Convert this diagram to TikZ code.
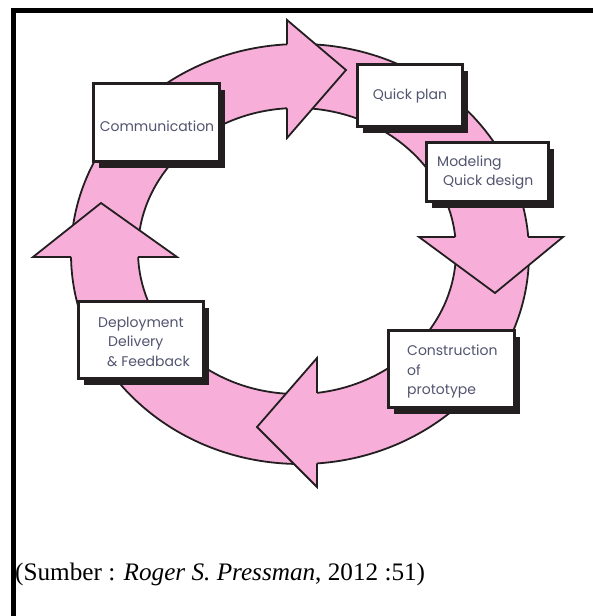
\documentclass[tikz,border=0pt]{standalone}
\usepackage{fontspec}
\setmainfont{Liberation Serif}
\newfontfamily\boxfont{Poppins}
\usetikzlibrary{shadows}
\definecolor{ringpink}{RGB}{247,174,216}
\definecolor{ink}{RGB}{35,31,32}
\definecolor{labelcol}{RGB}{82,84,112}
\begin{document}
\begin{tikzpicture}[x=1pt,y=-1pt,
  ringline/.style={draw=ink, line width=1.8pt, line join=miter},
  stagebox/.style={draw=ink, line width=2.2pt, fill=white, inner sep=0pt,
    drop shadow={shadow xshift=5pt, shadow yshift=-6pt, fill=ink, opacity=1}},
  stagetext/.style={inner sep=0pt, text=labelcol, align=left,
    font=\boxfont\fontsize{14}{19.5}\selectfont},
  framebar/.style={draw=black, line width=4.5pt}
]
\useasboundingbox (0,0) rectangle (593,616);
\fill[white] (0,0) rectangle (593,616);
% frame
\draw[framebar] (13.5,616) -- (13.5,10.5) -- (593,10.5);

% ring
\fill[ringpink, even odd rule]
  (300,254) ellipse [x radius=229pt, y radius=210pt]
  (297,251) ellipse [x radius=159pt, y radius=143pt];
\draw[ringline] (300,254) ellipse [x radius=229pt, y radius=210pt];
\draw[ringline] (297,251) ellipse [x radius=159pt, y radius=143pt];

% arrowheads
\fill[ringpink] (287,20) -- (346,70) -- (287,138) -- cycle;
\draw[ringline] (287,44.3) -- (287,20) -- (346,70) -- (287,138) -- (287,108.3);

\fill[ringpink] (419,237) -- (495,293) -- (563,237) -- cycle;
\draw[ringline] (455.2,237) -- (419,237) -- (495,293) -- (563,237) -- (528.2,237);

\fill[ringpink] (317,358) -- (257,427) -- (317,487) -- cycle;
\draw[ringline] (317,392.9) -- (317,358) -- (257,427) -- (317,487) -- (317,463.4);

\fill[ringpink] (33,257) -- (101,203) -- (177,257) -- cycle;
\draw[ringline] (71,257) -- (33,257) -- (101,203) -- (177,257) -- (138,257);

% boxes
\node[stagebox, minimum width=126pt, minimum height=78pt] (comm) at (156.5,122.5) {};
\node[stagebox, minimum width=105pt, minimum height=62pt] (plan) at (410,95.5) {};
\node[stagebox, minimum width=122pt, minimum height=59pt] (model) at (487.5,172) {};
\node[stagebox, minimum width=126pt, minimum height=77pt] (cons) at (451.5,369) {};
\node[stagebox, minimum width=125pt, minimum height=77pt] (depl) at (141,340) {};

% labels
\node[stagetext] (comm-t) at (157,126) {Communication};
\node[stagetext] (plan-t) at (410,96) {Quick plan};
\node[stagetext, anchor=west] (model-t) at (437,172.7) {Modeling\\\hspace*{6pt}Quick design};
\node[stagetext, anchor=west] (cons-t) at (407,371.5) {Construction\\of\\prototype};
\node[stagetext, anchor=west] (depl-t) at (98,341.5) {Deployment\\\hspace*{10pt}Delivery\\\hspace*{9pt}\&~Feedback};

% caption
\node[anchor=base west, inner sep=0pt, font=\fontsize{25.2}{29}\selectfont] (cap) at (15,580)
  {(Sumber : \textit{Roger S. Pressman}, 2012 :51)};
\end{tikzpicture}
\end{document}
